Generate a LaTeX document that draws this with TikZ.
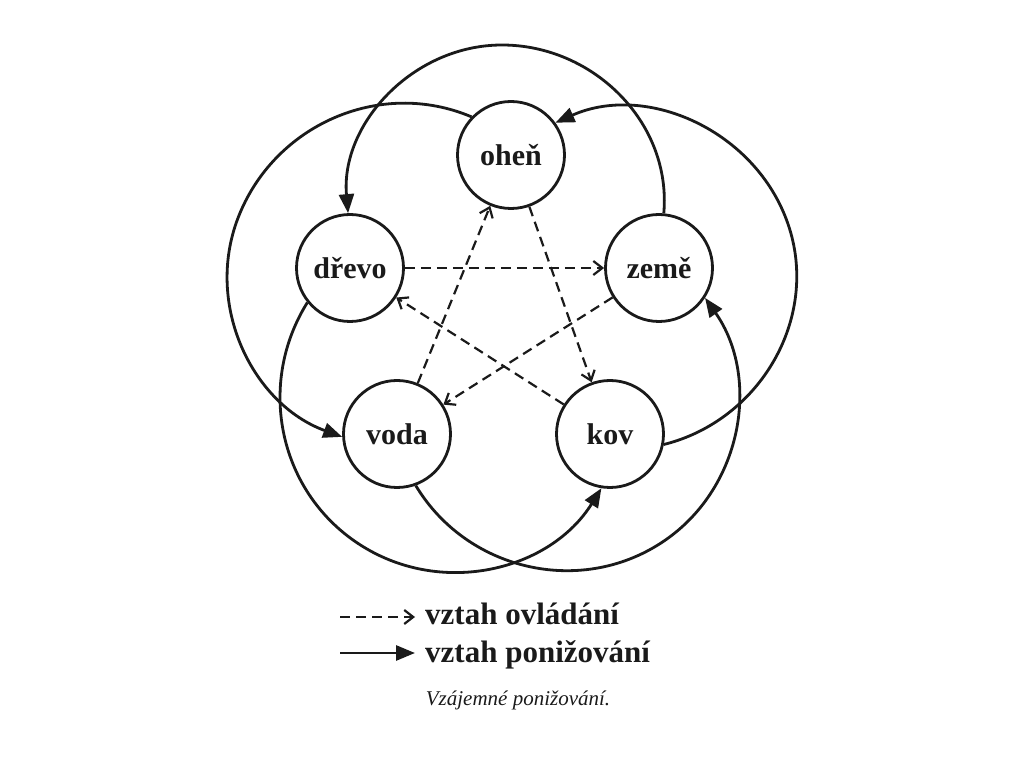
\documentclass[tikz,border=0pt]{standalone}
\usepackage{fontspec}
\setmainfont{Liberation Serif}
\usetikzlibrary{arrows.meta,positioning}
\definecolor{ink}{HTML}{1A1A1A}
\newcommand{\elemfont}{\fontsize{30}{35}\selectfont\bfseries}
\newcommand{\legfont}{\fontsize{31}{36}\selectfont\bfseries}
\newcommand{\capfont}{\fontsize{21}{25}\selectfont\itshape}
\tikzset{
  every node/.style={text=ink},
  elem/.style={circle,draw=ink,line width=2.8pt,minimum size=107pt,inner sep=0pt,font=\elemfont},
  ponizeni/.style={-{Triangle[length=19pt,width=15pt]},line width=2.8pt,draw=ink},
  ovladani/.style={-{Straight Barb[length=9pt,width=14pt]},line width=2.2pt,draw=ink,dash pattern=on 10pt off 6pt},
  legend/.style={anchor=base west,inner xsep=10pt,inner ysep=0pt,font=\legfont},
  caption/.style={anchor=base,font=\capfont},
}
\begin{document}
\begin{tikzpicture}[x=1pt,y=1pt,on grid]
\useasboundingbox (0,0) rectangle (1024,768);

\node[elem] (ohen) at (511,613) {oheň};
\node[elem,below left=113pt and 161pt of ohen] (drevo) {dřevo};
\node[elem,right=309pt of drevo] (zeme) {země};
\node[elem,below right=166pt and 47pt of drevo] (voda) {voda};
\node[elem,right=213pt of voda] (kov) {kov};

\coordinate (topmid) at (502,723);
\coordinate (leftmid) at (238,550);
\coordinate (rightmid) at (788,544);
\coordinate (lowrmid) at (661,225);
\coordinate (lowlmid) at (362,222);

\draw[ponizeni] (zeme.85) to[out=85,in=0] (topmid) to[out=180,in=95] (drevo.92);
\draw[ponizeni] (ohen.136) to[out=157,in=69] (leftmid) to[out=249,in=160] (voda.183);
\draw[ponizeni] (kov.349) to[out=14,in=289] (rightmid) to[out=109,in=24] (ohen.36);
\draw[ponizeni] (voda.290) to[out=301,in=213] (lowrmid) to[out=33,in=305] (zeme.327);
\draw[ponizeni] (drevo.219) to[out=238,in=148] (lowlmid) to[out=328,in=238] (kov.261);

\draw[ovladani] (drevo) -- (zeme);
\draw[ovladani] (zeme) -- (voda);
\draw[ovladani] (voda) -- (ohen);
\draw[ovladani] (ohen) -- (kov);
\draw[ovladani] (kov) -- (drevo);

\node[legend] (leg1) at (415,143) {vztah ovládání};
\node[legend] (leg2) at (415,106) {vztah ponižování};
\coordinate (leg1start) at (340,151);
\coordinate (leg2start) at (340,115);
\draw[ovladani] (leg1start) -- (leg1start -| leg1.west);
\draw[ponizeni] (leg2start) -- (leg2start -| leg2.west);

\node[caption] (cap) at (518,63) {Vzájemné ponižování.};

\end{tikzpicture}
\end{document}
